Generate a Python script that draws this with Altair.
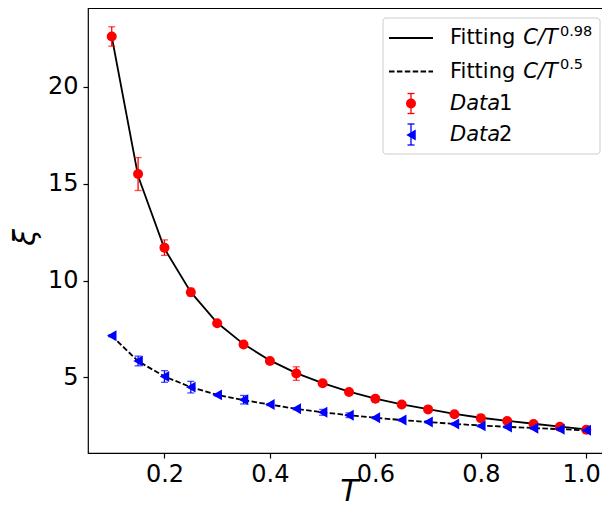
import altair as alt
import pandas as pd

# ---- data ----
T = [0.10, 0.15, 0.20, 0.25, 0.30, 0.35, 0.40, 0.45, 0.50, 0.55,
     0.60, 0.65, 0.70, 0.75, 0.80, 0.85, 0.90, 0.95, 1.00]
data1 = [22.6, 15.5, 11.7, 9.4, 7.8, 6.7, 5.85, 5.2, 4.7, 4.25,
         3.9, 3.6, 3.35, 3.1, 2.9, 2.75, 2.6, 2.45, 2.3]
err1 = [0.5, 0.85, 0.4, 0.2, 0.05, 0.05, 0.05, 0.35, 0.05, 0.05,
        0.05, 0.05, 0.05, 0.05, 0.05, 0.05, 0.05, 0.05, 0.05]
data2 = [7.15, 5.85, 5.05, 4.5, 4.1, 3.85, 3.6, 3.38, 3.2, 3.05,
         2.92, 2.8, 2.7, 2.6, 2.5, 2.44, 2.38, 2.33, 2.27]
err2 = [0.05, 0.25, 0.3, 0.3, 0.05, 0.22, 0.05, 0.05, 0.15, 0.12,
        0.05, 0.05, 0.05, 0.05, 0.05, 0.05, 0.05, 0.05, 0.05]
fit1 = [22.6, 15.4, 11.65, 9.4, 7.82, 6.72, 5.88, 5.22, 4.71, 4.27,
        3.91, 3.61, 3.36, 3.12, 2.92, 2.76, 2.61, 2.46, 2.32]
fit2 = [7.15, 5.84, 5.05, 4.5, 4.1, 3.83, 3.6, 3.38, 3.2, 3.05,
        2.92, 2.8, 2.7, 2.6, 2.52, 2.45, 2.39, 2.33, 2.27]
x_ticks = [0.2, 0.4, 0.6, 0.8, 1.0]
y_ticks = [5, 10, 15, 20]

df = pd.DataFrame({"T": T, "d1": data1, "e1": err1, "d2": data2, "e2": err2,
                   "f1": fit1, "f2": fit2})

W, H = 522, 445
FONT = "DejaVu Sans"
xs = alt.Scale(domain=[0.055, 1.045], nice=False, zero=False)
ys = alt.Scale(domain=[1.1, 24.07], nice=False, zero=False)

x_axis = alt.Axis(values=x_ticks, format=".1f", title="T", titleFontStyle="italic",
                  titleFontWeight="normal", titleFontSize=30, titleFont=FONT,
                  labelFont=FONT, labelFontSize=24, labelColor="black",
                  tickColor="black", tickSize=5, labelPadding=4, titlePadding=-10,
                  labelFlush=30, labelFlushOffset=14,
                  domain=False, grid=False)
y_axis = alt.Axis(values=y_ticks, format="d", title="ξ", titleFontStyle="italic",
                  titleFontWeight="normal", titleFontSize=30, titleFont=FONT,
                  labelFont=FONT, labelFontSize=24, labelColor="black",
                  tickColor="black", tickSize=5, labelPadding=5, titlePadding=7,
                  titleY=229,
                  domain=False, grid=False)


def X():
    return alt.X("T:Q", scale=xs, axis=x_axis)


def Y(field):
    return alt.Y(f"{field}:Q", scale=ys, axis=y_axis)


base = alt.Chart(df).transform_calculate(
    lo1="datum.d1 - datum.e1", hi1="datum.d1 + datum.e1",
    lo2="datum.d2 - datum.e2", hi2="datum.d2 + datum.e2")

DASH = [5.5, 2.4]
line1 = base.mark_line(color="black", strokeWidth=1.8).encode(x=X(), y=Y("f1"))
line2 = base.mark_line(color="black", strokeWidth=1.8, strokeDash=DASH).encode(x=X(), y=Y("f2"))

def errbars(lo, hi, color):
    r = base.mark_rule(color=color, strokeWidth=1.3).encode(
        x=X(), y=Y(lo), y2=alt.Y2(f"{hi}:Q"))
    c1 = base.mark_tick(orient="horizontal", size=7, thickness=1.3, color=color).encode(x=X(), y=Y(lo))
    c2 = base.mark_tick(orient="horizontal", size=7, thickness=1.3, color=color).encode(x=X(), y=Y(hi))
    return [r, c1, c2]

pts1 = base.mark_point(shape="circle", filled=True, size=100, color="red", opacity=1).encode(x=X(), y=Y("d1"))
pts2 = base.mark_point(shape="triangle-left", filled=True, size=120, color="blue", opacity=1).encode(x=X(), y=Y("d2"))

# ---- legend (drawn manually to allow italic / superscript text) ----
one = pd.DataFrame({"k": [0]})
lg = alt.Chart(one)
leg = [
    lg.mark_rect(fill="white", stroke="#cccccc", strokeWidth=1, cornerRadius=3).encode(
        x=alt.value(295), x2=alt.value(512), y=alt.value(10), y2=alt.value(146)),
    lg.mark_rule(color="black", strokeWidth=1.8).encode(
        x=alt.value(301), x2=alt.value(345), y=alt.value(30)),
    lg.mark_rule(color="black", strokeWidth=1.8, strokeDash=DASH).encode(
        x=alt.value(301), x2=alt.value(345), y=alt.value(63.5)),
    lg.mark_rule(color="red", strokeWidth=1.3).encode(
        x=alt.value(323), y=alt.value(85.5), y2=alt.value(105.5)),
    lg.mark_rule(color="red", strokeWidth=1.3).encode(
        x=alt.value(319.5), x2=alt.value(326.5), y=alt.value(85.5)),
    lg.mark_rule(color="red", strokeWidth=1.3).encode(
        x=alt.value(319.5), x2=alt.value(326.5), y=alt.value(105.5)),
    lg.mark_point(shape="circle", filled=True, size=100, color="red", opacity=1).encode(
        x=alt.value(323), y=alt.value(95.5)),
    lg.mark_rule(color="blue", strokeWidth=1.3).encode(
        x=alt.value(323), y=alt.value(116), y2=alt.value(137)),
    lg.mark_rule(color="blue", strokeWidth=1.3).encode(
        x=alt.value(319.5), x2=alt.value(326.5), y=alt.value(116)),
    lg.mark_rule(color="blue", strokeWidth=1.3).encode(
        x=alt.value(319.5), x2=alt.value(326.5), y=alt.value(137)),
    lg.mark_point(shape="triangle-left", filled=True, size=120, color="blue", opacity=1).encode(
        x=alt.value(323), y=alt.value(127)),
]

def txt(s, x, y, size=21, italic=False):
    kw = dict(align="left", baseline="middle", font=FONT, fontSize=size, color="black")
    if italic:
        kw["fontStyle"] = "italic"
    return lg.mark_text(**kw).encode(x=alt.value(x), y=alt.value(y), text=alt.value(s))

leg += [
    txt("Fitting", 362, 30), txt("C/T", 435.3, 30, italic=True), txt("0.98", 472, 23.5, size=14.5),
    txt("Fitting", 362, 63.5), txt("C/T", 435.3, 63.5, italic=True), txt("0.5", 472, 57, size=14.5),
    txt("Data", 362, 95.5, italic=True), txt("1", 411, 95.5),
    txt("Data", 362, 127, italic=True), txt("2", 411, 127),
]

layers = [line1, line2] + errbars("lo1", "hi1", "red") + [pts1] + errbars("lo2", "hi2", "blue") + [pts2] + leg

chart = alt.layer(*layers).properties(
    width=W, height=H,
    autosize=alt.AutoSizeParams(type="none"),
    padding={"left": 80, "top": 0, "right": -8, "bottom": 53},
).configure_view(stroke="black", strokeWidth=1.2).configure_axis(
    tickWidth=1.2)

chart.save("out.html", embed_options={"renderer": "svg", "actions": False})
